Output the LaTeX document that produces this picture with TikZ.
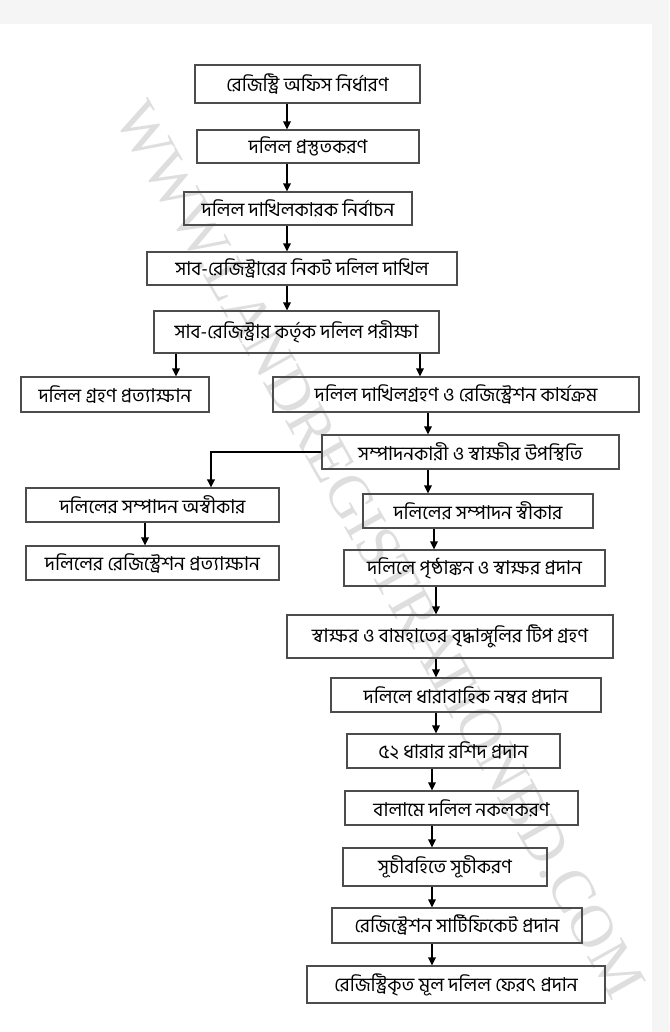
\documentclass[tikz,border=0pt]{standalone}
\usepackage{fontspec}
\usepackage{graphicx}
\setmainfont{Liberation Serif}
\newfontfamily\bnfont[Script=Bengali]{Hind Siliguri}
\usetikzlibrary{arrows.meta}

\begin{document}
\begin{tikzpicture}[
    x=0.03cm, y=-0.03cm,
    >={Triangle[length=7pt, width=6.5pt]},
    stage/.style={rectangle, draw=black!70, line width=0.9pt, inner sep=0pt,
        font=\bnfont\fontsize{16.3}{19}\selectfont}
]
    % Sfondo
    \useasboundingbox (0,0) rectangle (669,1032);
    \fill[black!4] (0,0) rectangle (669,1032);
    \fill[white] (0,24) rectangle (652,1032);
    \node[rotate=-60.6, text=black!13, font=\rmfamily] (watermark) at (380,550)
        {\resizebox{30.5cm}{!}{WWW.LANDREGISTRATIONBD.COM}};

    % Corsie delle frecce
    \coordinate (ltop) at (287,0);
    \coordinate (lrej) at (176,0);
    \coordinate (lacc) at (420,0);
    \coordinate (lmid) at (428,0);
    \coordinate (lnine) at (434,0);
    \coordinate (llow) at (436,0);
    \coordinate (lend) at (432,0);
    \coordinate (lbr) at (211,0);
    \coordinate (lleft) at (145,0);

    % Colonna principale
    \node[stage, minimum width=6.75cm, minimum height=1.14cm] (b1) at (307.5,84) {রেজিস্ট্রি অফিস নির্ধারণ};
    \node[stage, minimum width=6.66cm, minimum height=0.99cm] (b2) at (308,146.5) {দলিল প্রস্তুতকরণ};
    \node[stage, minimum width=6.84cm, minimum height=0.99cm] (b3) at (298,208.5) {দলিল দাখিলকারক নির্বাচন};
    \node[stage, minimum width=9.3cm, minimum height=0.99cm] (b4) at (302,268.5) {সাব-রেজিস্ট্রারের নিকট দলিল দাখিল};
    \node[stage, minimum width=8.55cm, minimum height=1.26cm] (b5) at (296.5,332) {সাব-রেজিস্ট্রার কর্তৃক দলিল পরীক্ষা};

    % Esito della verifica
    \node[stage, minimum width=5.64cm, minimum height=1.05cm] (b6l) at (115,394.5) {দলিল গ্রহণ প্রত্যাক্ষান};
    \node[stage, minimum width=10.98cm, minimum height=1.05cm] (b6r) at (456,394.5) {দলিল দাখিলগ্রহণ ও রেজিস্ট্রেশন কার্যক্রম};
    \node[stage, minimum width=8.91cm, minimum height=1.02cm] (b7) at (470.5,452) {সম্পাদনকারী ও স্বাক্ষীর উপস্থিতি};

    % Ramo sinistro
    \node[stage, minimum width=7.59cm, minimum height=1.02cm] (b8l) at (152.5,505) {দলিলের সম্পাদন অস্বীকার};
    \node[stage, minimum width=7.59cm, minimum height=1.02cm] (b9l) at (152.5,563) {দলিলের রেজিস্ট্রেশন প্রত্যাক্ষান};

    % Ramo destro
    \node[stage, minimum width=6.9cm, minimum height=1.02cm] (b8r) at (478,511) {দলিলের সম্পাদন স্বীকার};
    \node[stage, minimum width=7.83cm, minimum height=1.08cm] (b9r) at (474.5,568) {দলিলে পৃষ্ঠাঙ্কন ও স্বাক্ষর প্রদান};
    \node[stage, minimum width=9.78cm, minimum height=1.29cm] (b10) at (450,636.5) {স্বাক্ষর ও বামহাতের বৃদ্ধাঙ্গুলির টিপ গ্রহণ};
    \node[stage, minimum width=8.1cm, minimum height=1.02cm] (b11) at (466,695) {দলিলে ধারাবাহিক নম্বর প্রদান};
    \node[stage, minimum width=6.39cm, minimum height=1.02cm] (b12) at (453.5,751) {৫২ ধারার রশিদ প্রদান};
    \node[stage, minimum width=6.99cm, minimum height=1.02cm] (b13) at (461.5,808) {বালামে দলিল নকলকরণ};
    \node[stage, minimum width=6.12cm, minimum height=1.14cm] (b14) at (445,867) {সূচীবহিতে সূচীকরণ};
    \node[stage, minimum width=7.5cm, minimum height=1.05cm] (b15) at (457,925.5) {রেজিস্ট্রেশন সার্টিফিকেট প্রদান};
    \node[stage, minimum width=8.94cm, minimum height=1.11cm] (b16) at (456,984.5) {রেজিস্ট্রিকৃত মূল দলিল ফেরৎ প্রদান};

    % Frecce
    \draw[->, line width=1.6pt] (b1.south -| ltop) -- (b2.north -| ltop);
    \draw[->, line width=1.6pt] (b2.south -| ltop) -- (b3.north -| ltop);
    \draw[->, line width=1.6pt] (b3.south -| ltop) -- (b4.north -| ltop);
    \draw[->, line width=1.6pt] (b4.south -| ltop) -- (b5.north -| ltop);
    \draw[->, line width=1.6pt] (b5.south -| lrej) -- (b6l.north -| lrej);
    \draw[->, line width=1.6pt] (b5.south -| lacc) -- (b6r.north -| lacc);
    \draw[->, line width=1.6pt] (b6r.south -| lmid) -- (b7.north -| lmid);
    \draw[->, line width=2.2pt] (b7.west) -| (b8l.north -| lbr);
    \draw[->, line width=1.6pt] (b8l.south -| lleft) -- (b9l.north -| lleft);
    \draw[->, line width=1.6pt] (b7.south -| lmid) -- (b8r.north -| lmid);
    \draw[->, line width=1.6pt] (b8r.south -| lnine) -- (b9r.north -| lnine);
    \draw[->, line width=1.6pt] (b9r.south -| llow) -- (b10.north -| llow);
    \draw[->, line width=1.6pt] (b10.south -| llow) -- (b11.north -| llow);
    \draw[->, line width=1.6pt] (b11.south -| llow) -- (b12.north -| llow);
    \draw[->, line width=1.6pt] (b12.south -| lend) -- (b13.north -| lend);
    \draw[->, line width=1.6pt] (b13.south -| lend) -- (b14.north -| lend);
    \draw[->, line width=1.6pt] (b14.south -| lend) -- (b15.north -| lend);
    \draw[->, line width=1.6pt] (b15.south -| lend) -- (b16.north -| lend);
\end{tikzpicture}
\end{document}
